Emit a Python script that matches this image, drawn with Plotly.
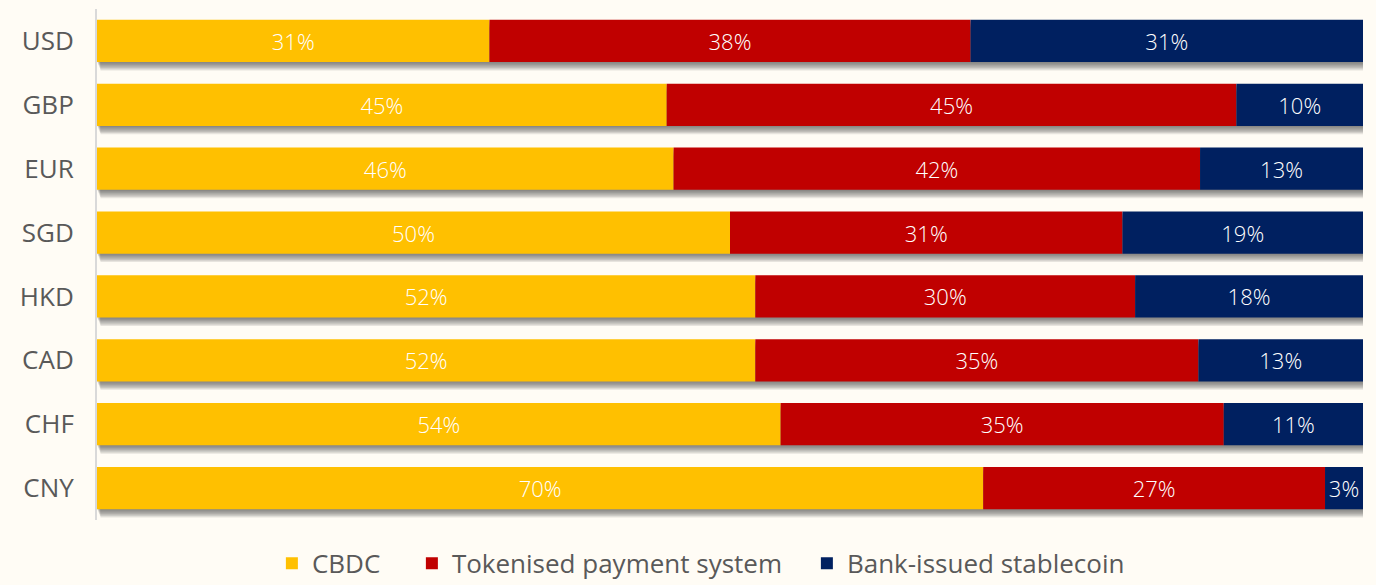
import plotly.graph_objects as go

# Currencies, top to bottom
currencies = ["USD", "GBP", "EUR", "SGD", "HKD", "CAD", "CHF", "CNY"]

# Share of respondents (%) per settlement asset
cbdc = [31, 45, 46, 50, 52, 52, 54, 70]
tokenised = [38, 45, 42, 31, 30, 35, 35, 27]
stablecoin = [31, 10, 13, 19, 18, 13, 11, 3]

series_names = ["CBDC", "Tokenised payment system", "Bank-issued stablecoin"]
series_colors = ["#FFC000", "#C00000", "#002060"]
legend_widths = [95, 350, None]

BG = "#FFFCF5"
BAR_W = 0.66

# normalise each row to 100 and stack manually via `base`
totals = [a + b + c for a, b, c in zip(cbdc, tokenised, stablecoin)]
shares = [[v / t * 100 for v, t in zip(col, totals)]
          for col in (cbdc, tokenised, stablecoin)]

fig = go.Figure()

# soft drop shadow under each bar: several faint offset copies
PX_Y = 1 / 63.8          # one pixel in category units
PX_X = 100 / 1266        # one pixel in percent units
full = [sum(s[i] for s in shares) for i in range(len(currencies))]
for k in range(1, 8):
    fig.add_trace(go.Bar(
        y=currencies, x=full, base=[k * 0.5 * PX_X] * len(currencies),
        orientation="h", width=BAR_W, offset=-BAR_W / 2 + k * 1.2 * PX_Y,
        marker=dict(color="rgba(70,70,70,0.13)", line=dict(width=0)),
        showlegend=False, hoverinfo="skip", cliponaxis=False,
    ))

cum = [0.0] * len(currencies)
for name, color, vals, sh, lw in zip(series_names, series_colors,
                                     (cbdc, tokenised, stablecoin), shares,
                                     legend_widths):
    fig.add_trace(go.Bar(
        y=currencies, x=sh, base=list(cum), name=name,
        orientation="h", width=BAR_W,
        marker=dict(color=color, line=dict(width=0)),
        text=[f"{v}%" for v in vals], textposition="inside",
        insidetextanchor="middle", constraintext="none",
        textfont=dict(color="white", size=22, family="Open Sans", weight=300),
        cliponaxis=False, legendwidth=lw,
    ))
    cum = [c + s for c, s in zip(cum, sh)]

fig.update_layout(
    width=1376, height=585,
    margin=dict(l=97, r=13, t=9, b=65),
    paper_bgcolor=BG, plot_bgcolor=BG,
    barmode="overlay",
    font=dict(family="Open Sans", color="#595959"),
    legend=dict(
        orientation="h", x=0.477, xanchor="center",
        yref="container", y=0.037, yanchor="middle",
        font=dict(size=26, color="#595959", family="Open Sans"),
        bgcolor="rgba(0,0,0,0)", traceorder="normal",
    ),
    xaxis=dict(range=[0, 100], visible=False, fixedrange=True),
    yaxis=dict(
        categoryorder="array", categoryarray=currencies, autorange="reversed",
        showline=True, linecolor="#D9D9D9", linewidth=2,
        showgrid=False, zeroline=False, ticks="",
        ticklabelstandoff=16,
        tickfont=dict(size=26, color="#595959", family="Open Sans"),
    ),
)

fig.write_html("out.html")
